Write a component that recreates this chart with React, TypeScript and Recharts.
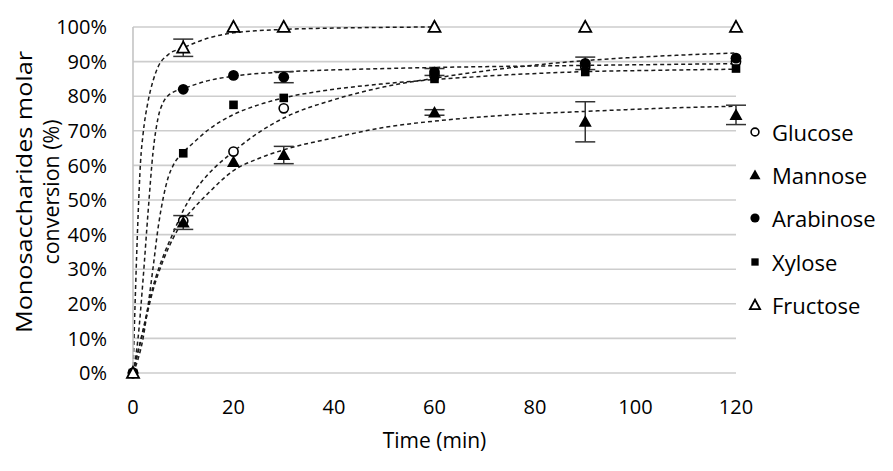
import React from 'react';
import {
  ComposedChart,
  Line,
  Scatter,
  XAxis,
  YAxis,
  CartesianGrid,
  ErrorBar,
  Legend,
} from 'recharts';

// ---- measured points ----
const times = [0, 10, 20, 30, 60, 90, 120];
const glucoseValues = [0, 44, 64, 76.5, 86, 88.5, 90];
const glucoseErrors = [null, null, null, null, null, null, null];
const mannoseValues = [0, 43.5, 61, 63, 75.3, 72.6, 74.6];
const mannoseErrors = [null, 2, null, 2.5, 0.8, 5.8, 2.8];
const arabinoseValues = [0, 82, 86, 85.5, 87, 89.5, 91];
const arabinoseErrors = [null, null, null, 1.6, 1, 1.8, null];
const xyloseValues = [0, 63.5, 77.5, 79.5, 85, 87, 88];
const xyloseErrors = [null, null, null, null, null, null, null];
const fructoseValues = [0, 94, 100, 100, 100, 100, 100];
const fructoseErrors = [null, 2.5, null, null, null, null, null];

// ---- fitted (dashed) curves ----
const fructoseFitT = [0, 0.5, 1, 1.5, 2, 3, 4, 5, 7, 10, 15, 20, 30, 45, 60];
const fructoseFitY = [0, 24, 45, 61, 69, 78.5, 84.5, 88.5, 92, 94, 96.8, 98.3, 99.3, 99.8, 100];
const arabinoseFitT = [0, 1, 2, 3, 4, 5, 6, 7, 8, 10, 15, 20, 30, 45, 60, 90, 120];
const arabinoseFitY = [0, 10, 27, 46.5, 64, 73.8, 78.2, 80.2, 81.2, 82.2, 84.5, 85.8, 87, 87.8, 88.3, 88.9, 89.4];
const xyloseFitT = [0, 1, 2, 3, 4, 5, 6, 7, 8, 10, 12, 15, 20, 25, 30, 40, 50, 60, 75, 90, 105, 120];
const xyloseFitY = [0, 4, 10, 19.5, 30.5, 42, 50.5, 56.5, 60, 63.8, 66.5, 70.3, 74.7, 77.5, 79.5, 82, 83.6, 84.8, 86.2, 87.1, 87.5, 87.8];
const glucoseFitT = [0, 2, 4, 6, 8, 10, 12, 15, 20, 25, 30, 40, 50, 60, 75, 90, 105, 120];
const glucoseFitY = [0, 12.5, 25, 33.7, 40.5, 47, 52, 57.5, 64, 69.5, 73.7, 79, 82.7, 85.2, 88.2, 90.3, 91.6, 92.5];
const mannoseFitT = [0, 2, 4, 6, 8, 10, 12, 15, 20, 25, 30, 40, 50, 60, 75, 90, 105, 120];
const mannoseFitY = [0, 12, 24, 32.5, 39, 44, 47.5, 52, 58.5, 62, 64.5, 68, 71, 72.8, 74.6, 75.6, 76.5, 77.1];

const seriesNames = ['Glucose', 'Mannose', 'Arabinose', 'Xylose', 'Fructose'];
const yTicks = [0, 10, 20, 30, 40, 50, 60, 70, 80, 90, 100];
const xTicks = [0, 20, 40, 60, 80, 100, 120];

const FONT = '"Open Sans", sans-serif';
const INK = '#000000';

type Kind = 'openCircle' | 'triangle' | 'circle' | 'square' | 'openTriangle';

const toRows = (vals: number[], errs: (number | null)[]) =>
  times.map((t, i) => ({ t, y: vals[i], err: errs[i] }));
const toFit = (ts: number[], ys: number[]) => ts.map((t, i) => ({ t, y: ys[i] }));

const marker = (kind: Kind, cx: number, cy: number, s = 1) => {
  if (cx == null || cy == null || isNaN(cx) || isNaN(cy)) return <g />;
  switch (kind) {
    case 'openCircle':
      return <circle cx={cx} cy={cy} r={4.6 * s} fill="#fff" stroke={INK} strokeWidth={1.6} />;
    case 'circle':
      return <circle cx={cx} cy={cy} r={5.4 * s} fill={INK} />;
    case 'square':
      return <rect x={cx - 4.3 * s} y={cy - 4.3 * s} width={8.6 * s} height={8.6 * s} fill={INK} />;
    case 'triangle':
      return (
        <polygon
          points={`${cx},${cy - 6.5 * s} ${cx - 6.5 * s},${cy + 5 * s} ${cx + 6.5 * s},${cy + 5 * s}`}
          fill={INK}
        />
      );
    case 'openTriangle':
    default:
      return (
        <polygon
          points={`${cx},${cy - 6.2 * s} ${cx - 6 * s},${cy + 4.8 * s} ${cx + 6 * s},${cy + 4.8 * s}`}
          fill="#fff"
          stroke={INK}
          strokeWidth={1.8}
          strokeLinejoin="miter"
        />
      );
  }
};

const kinds: Kind[] = ['openCircle', 'triangle', 'circle', 'square', 'openTriangle'];

const pointSets = [
  toRows(glucoseValues, glucoseErrors),
  toRows(mannoseValues, mannoseErrors),
  toRows(arabinoseValues, arabinoseErrors),
  toRows(xyloseValues, xyloseErrors),
  toRows(fructoseValues, fructoseErrors),
];

const fitSets = [
  toFit(glucoseFitT, glucoseFitY),
  toFit(mannoseFitT, mannoseFitY),
  toFit(arabinoseFitT, arabinoseFitY),
  toFit(xyloseFitT, xyloseFitY),
  toFit(fructoseFitT, fructoseFitY),
];

const renderLegend = () => (
  <div style={{ fontFamily: FONT, fontSize: 22, color: INK, lineHeight: 1 }}>
    {seriesNames.map((name, i) => (
      <div key={name} style={{ display: 'flex', alignItems: 'center', height: 43.4 }}>
        <svg width={16} height={16} style={{ overflow: 'visible' }}>
          {marker(kinds[i], 8, 8, 0.85)}
        </svg>
        <span style={{ marginLeft: 9 }}>{name}</span>
      </div>
    ))}
  </div>
);

const renderYTitle = () => (
  <g>
    <text
      x={15}
      y={184}
      transform="rotate(-90 15 184)"
      textAnchor="middle"
      dominantBaseline="central"
      fontFamily={FONT}
      fontSize={22}
      fill={INK}
      textLength={282}
      lengthAdjust="spacingAndGlyphs"
    >
      Monosaccharides molar
    </text>
    <text
      x={42}
      y={184}
      transform="rotate(-90 42 184)"
      textAnchor="middle"
      dominantBaseline="central"
      fontFamily={FONT}
      fontSize={22}
      fill={INK}
      textLength={145}
      lengthAdjust="spacingAndGlyphs"
    >
      conversion (%)
    </text>
  </g>
);

export default function App() {
  return (
    <ComposedChart
      width={877}
      height={455}
      margin={{ top: 19, right: 149, bottom: 10, left: 0 }}
      style={{ fontFamily: FONT }}
    >
      <CartesianGrid vertical={false} stroke="#cdcdcd" strokeWidth={1.6} />
      <XAxis
        type="number"
        dataKey="t"
        domain={[0, 120]}
        ticks={xTicks}
        axisLine={false}
        tickLine={false}
        tickSize={0}
        tickMargin={27}
        height={80}
        tick={{ fill: INK, fontSize: 20, fontFamily: FONT }}
        label={{
          value: 'Time (min)',
          position: 'insideBottom',
          offset: 5,
          fill: INK,
          fontSize: 21,
          fontFamily: FONT,
        }}
      />
      <YAxis
        type="number"
        dataKey="y"
        domain={[0, 100]}
        ticks={yTicks}
        tickFormatter={(v: number) => `${v}%`}
        axisLine={{ stroke: '#c4c4c4', strokeWidth: 1.6 }}
        tickLine={false}
        tickSize={0}
        tickMargin={26}
        width={125}
        tick={{ fill: INK, fontSize: 20, fontFamily: FONT }}
        label={{ content: renderYTitle }}
      />
      {fitSets.map((fit, i) => (
        <Line
          key={`fit-${seriesNames[i]}`}
          data={fit}
          dataKey="y"
          type="monotone"
          dot={false}
          activeDot={false}
          stroke="#1a1a1a"
          strokeWidth={1.5}
          strokeDasharray="4 3"
          legendType="none"
          isAnimationActive={false}
        />
      ))}
      {pointSets.map((rows, i) => (
        <Scatter
          key={seriesNames[i]}
          name={seriesNames[i]}
          data={rows}
          dataKey="y"
          fill={INK}
          isAnimationActive={false}
          shape={(p: any) => marker(kinds[i], p.cx, p.cy)}
        >
          <ErrorBar dataKey="err" direction="y" width={10} stroke="#333" strokeWidth={1.5} />
        </Scatter>
      ))}
      <Legend
        layout="vertical"
        align="center"
        verticalAlign="middle"
        content={renderLegend}
        wrapperStyle={{ left: 739, top: 102, width: 140 }}
      />
    </ComposedChart>
  );
}
